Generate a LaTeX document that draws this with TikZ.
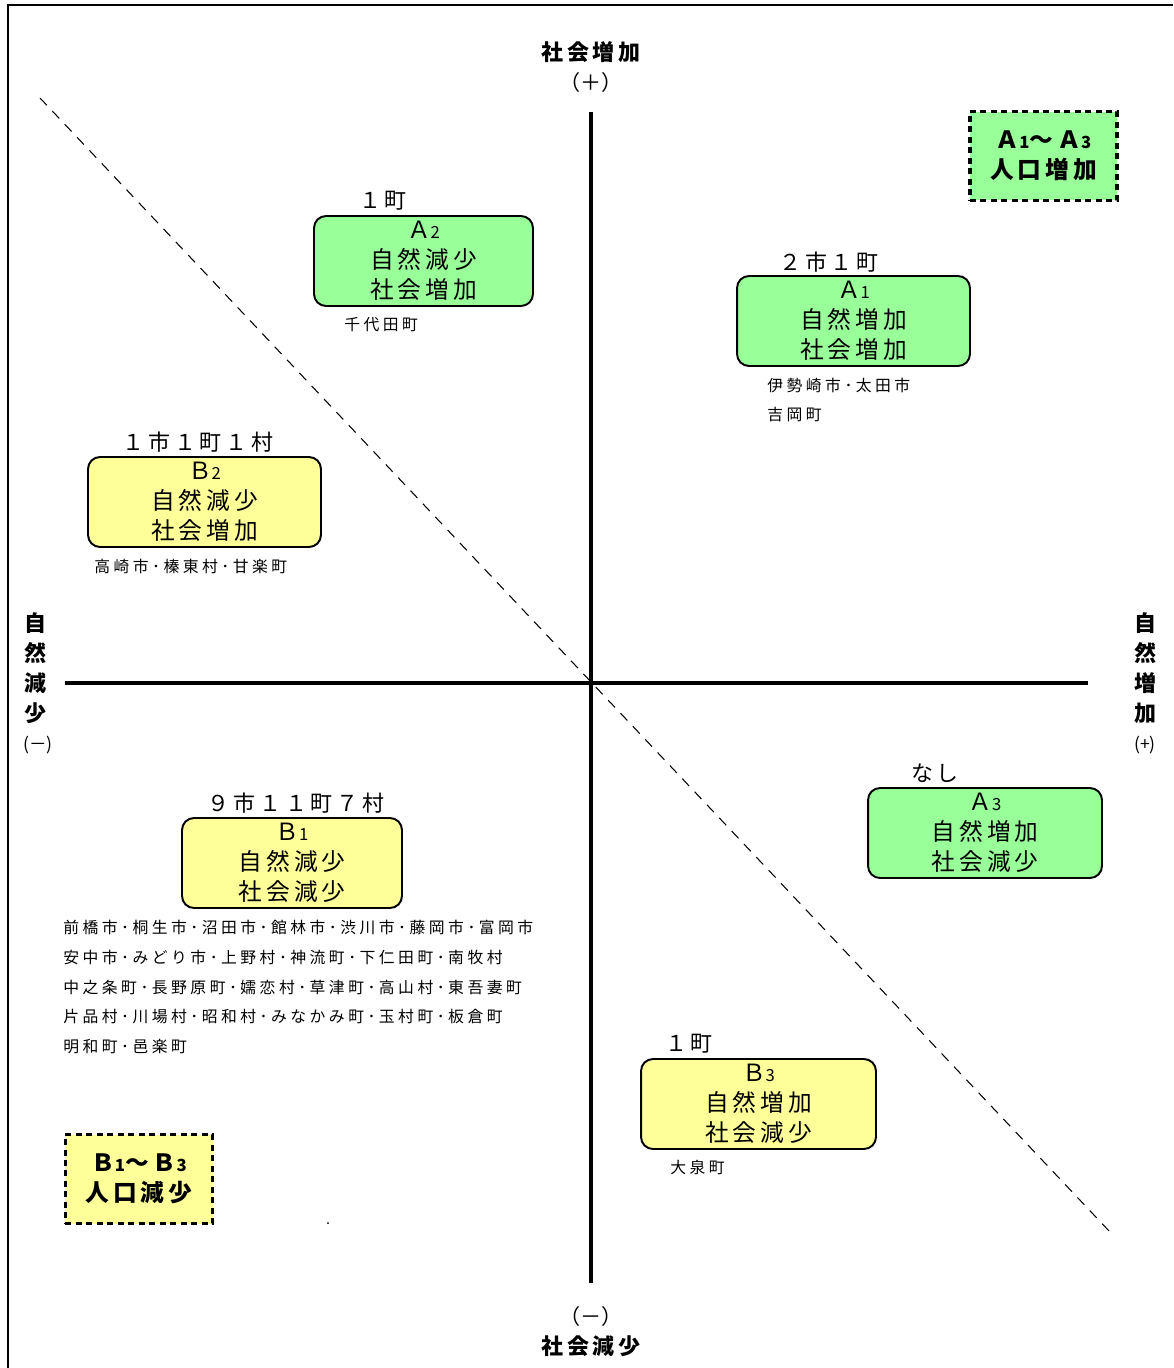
\documentclass[tikz,border=0pt]{standalone}
\usepackage{fontspec}
\setmainfont{Noto Sans CJK JP}
\newfontfamily\boxfont[LetterSpace=17]{Noto Sans CJK JP}
\newfontfamily\namefont[LetterSpace=22]{Noto Sans CJK JP}
\definecolor{kusa}{RGB}{153,255,153}
\definecolor{kiiro}{RGB}{255,255,153}
\newcommand{\sub}[1]{{\fontsize{9.5}{9.5}\selectfont #1}}
\tikzset{
  quad/.style={draw,line width=1.1pt,rounded corners=0.24cm,minimum height=1.8cm,
    align=center,inner sep=0pt,font=\boxfont\fontsize{13.5}{17}\selectfont},
  zou/.style={quad,fill=kusa},
  gen/.style={quad,fill=kiiro},
  kazu/.style={inner sep=0pt,font=\boxfont\fontsize{12.5}{15}\selectfont},
  meisho/.style={anchor=west,align=left,inner sep=0pt,font=\namefont\fontsize{9}{17}\selectfont},
  hanrei/.style={draw,dash pattern=on 0.12cm off 0.09cm,line width=2pt,minimum width=2.95cm,
    minimum height=1.78cm,align=center,inner sep=0pt,font=\bfseries\boxfont\fontsize{13.5}{17}\selectfont},
  jiku/.style={align=center,inner sep=0pt,font=\bfseries\boxfont\fontsize{12.5}{17}\selectfont},
  fugo/.style={inner sep=0pt,font=\fontsize{10}{12}\selectfont}
}
\begin{document}
\begin{tikzpicture}[x=0.02cm,y=-0.02cm]
    \useasboundingbox (0,0) rectangle (1173,1368);
    \draw[line width=1.4pt] (8,1368) -- (8,5) -- (1173,5);
    % axes
    \coordinate (top) at (591,112); \coordinate (bottom) at (591,1283);
    \coordinate (left) at (65,683); \coordinate (right) at (1088,683);
    \draw[line width=1.8pt] (top) -- (bottom);
    \draw[line width=1.8pt] (left) -- (right);
    \coordinate (nw) at (40,98); \coordinate (se) at (1110,1232);
    \draw[line width=0.6pt,dash pattern=on 0.2cm off 0.16cm] (nw) -- (se);
    %
    \node[jiku] (shakaizou) at (591,52) {社会増加};
    \node[fugo,font=\fontsize{12}{14}\selectfont] (plus) at (591,82) {（＋）};
    \node[fugo,font=\fontsize{12}{14}\selectfont] (minus) at (591,1316) {（－）};
    \node[jiku] (shakaigen) at (591,1346) {社会減少};
    \node[jiku] (shizengen) at (35,668) {自\\然\\減\\少};
    \node[fugo] (minusl) at (38,745) {(－)};
    \node[jiku] (shizenzou) at (1145,668) {自\\然\\増\\加};
    \node[fugo] (plusr) at (1145,745) {(+)};
    %
    \node[zou,minimum width=4.38cm] (a2) at (423.5,261) {Ａ\sub{2}\\自然減少\\社会増加};
    \node[kazu] (n2) at (383,201) {１町};
    \node[meisho] (m2) at (344,325) {千代田町};
    %
    \node[zou,minimum width=4.66cm] (a1) at (853.5,321) {Ａ\sub{1}\\自然増加\\社会増加};
    \node[kazu] (n1) at (829,262) {２市１町};
    \node[meisho] (m1) at (767,400) {伊勢崎市･太田市\\吉岡町};
    %
    \node[gen,minimum width=4.66cm] (b2) at (204.5,502) {Ｂ\sub{2}\\自然減少\\社会増加};
    \node[kazu] (k2) at (198,442) {１市１町１村};
    \node[meisho] (l2) at (94,566) {高崎市･榛東村･甘楽町};
    %
    \node[zou,minimum width=4.68cm] (a3) at (985,833) {Ａ\sub{3}\\自然増加\\社会減少};
    \node[kazu] (n3) at (935,773) {なし};
    %
    \node[gen,minimum width=4.4cm] (b1) at (292,863) {Ｂ\sub{1}\\自然減少\\社会減少};
    \node[kazu] (k1) at (296,803) {９市１１町７村};
    \node[meisho] (l1) at (63,987) {前橋市･桐生市･沼田市･館林市･渋川市･藤岡市･富岡市\\
      安中市･みどり市･上野村･神流町･下仁田町･南牧村\\
      中之条町･長野原町･嬬恋村･草津町･高山村･東吾妻町\\
      片品村･川場村･昭和村･みなかみ町･玉村町･板倉町\\
      明和町･邑楽町};
    %
    \node[gen,minimum width=4.7cm] (b3) at (758.5,1104) {Ｂ\sub{3}\\自然増加\\社会減少};
    \node[kazu] (k3) at (689,1044) {１町};
    \node[meisho] (l3) at (670,1167) {大泉町};
    %
    \node[hanrei,fill=kusa] (zouka) at (1043.5,156) {Ａ\sub{1}～Ａ\sub{3}\\人口増加};
    \node[hanrei,fill=kiiro] (genshou) at (139,1179) {Ｂ\sub{1}～Ｂ\sub{3}\\人口減少};
    \fill (328,1223) circle (0.02cm);
\end{tikzpicture}
\end{document}
